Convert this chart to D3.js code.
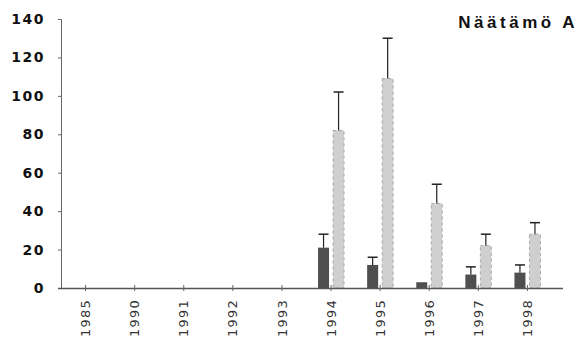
<!DOCTYPE html>
<html><head><meta charset="utf-8">
<script src="https://cdn.jsdelivr.net/npm/d3@7"></script>
<style>body{margin:0;background:#fff}svg{display:block}</style>
</head><body>
<script>
const categories = ["1985","1990","1991","1992","1993","1994","1995","1996","1997","1998"];
const darkValues = [0,0,0,0,0,21,12,3,7,8];
const darkErrors = [null,null,null,null,null,28,16,null,11,12];
const lightValues = [0,0,0,0,0,82,109,44,22,28];
const lightErrors = [null,null,null,null,null,102,130,54,28,34];
const yTicks = [0,20,40,60,80,100,120,140];
const title = "Näätämö A";

const W=579,H=349;
const svg=d3.select("body").append("svg").attr("width",W).attr("height",H);
const x=d3.scaleBand().domain(categories).range([61,552]);
const y=d3.scaleLinear().domain([0,140]).range([288,19]);
const font="Liberation Sans, Arial, sans-serif";

// y axis
const ya=svg.append("g").attr("transform","translate(61,0)")
  .call(d3.axisLeft(y).tickValues(yTicks).tickSize(3).tickPadding(13));
ya.select(".domain").attr("stroke","#666");
ya.selectAll(".tick line").attr("stroke","#666");
ya.selectAll("text").attr("font-family","DejaVu Sans, sans-serif").attr("font-size",14).attr("font-weight","bold").attr("fill","#111").attr("letter-spacing",1.5);

const bw=11, gap=4;
const dark="#4f4f4f", light="#cfcfcf";
categories.forEach((c,i)=>{
  const cx=x(c)+x.bandwidth()/2;
  const dx=cx-gap/2-bw, lx=cx+gap/2;
  if(darkValues[i]>0){
    svg.append("rect").attr("x",dx).attr("width",bw).attr("y",y(darkValues[i])).attr("height",y(0)-y(darkValues[i])).attr("fill",dark);
  }
  if(lightValues[i]>0){
    svg.append("rect").attr("x",lx).attr("width",bw).attr("y",y(lightValues[i])).attr("height",y(0)-y(lightValues[i])).attr("fill",light).attr("stroke","#999").attr("stroke-width",0.8).attr("stroke-dasharray","3,3");
  }
  [[darkErrors[i],darkValues[i],dx],[lightErrors[i],lightValues[i],lx]].forEach(([e,v,bx])=>{
    if(e==null) return;
    const ex=bx+bw/2;
    svg.append("line").attr("x1",ex).attr("x2",ex).attr("y1",y(v)).attr("y2",y(e)).attr("stroke","#222").attr("stroke-width",1.2);
    svg.append("line").attr("x1",ex-5).attr("x2",ex+5).attr("y1",y(e)).attr("y2",y(e)).attr("stroke","#222").attr("stroke-width",1.5);
  });
});

// x axis
const xa=svg.append("g").attr("transform","translate(0,288)")
  .call(d3.axisBottom(x).tickSize(4).tickSizeOuter(0).tickPadding(6));
xa.select(".domain").attr("stroke","#555").attr("stroke-width",1.5).attr("d","M58,0.5H563");
xa.selectAll(".tick line").attr("stroke","#666").attr("y1",-3).attr("y2",3);
xa.selectAll("text").attr("font-family","DejaVu Sans, sans-serif").attr("font-size",13).attr("fill","#333").attr("letter-spacing",1.2)
  .attr("transform","rotate(-90)").attr("text-anchor","end").attr("dy","0.35em").attr("x",-11).attr("y",0);

svg.append("text").attr("x",578).attr("y",28).attr("text-anchor","end").attr("font-family",font).attr("font-size",17).attr("font-weight","bold").attr("fill","#111").attr("letter-spacing",3.5).text(title);
</script>
</body></html>
